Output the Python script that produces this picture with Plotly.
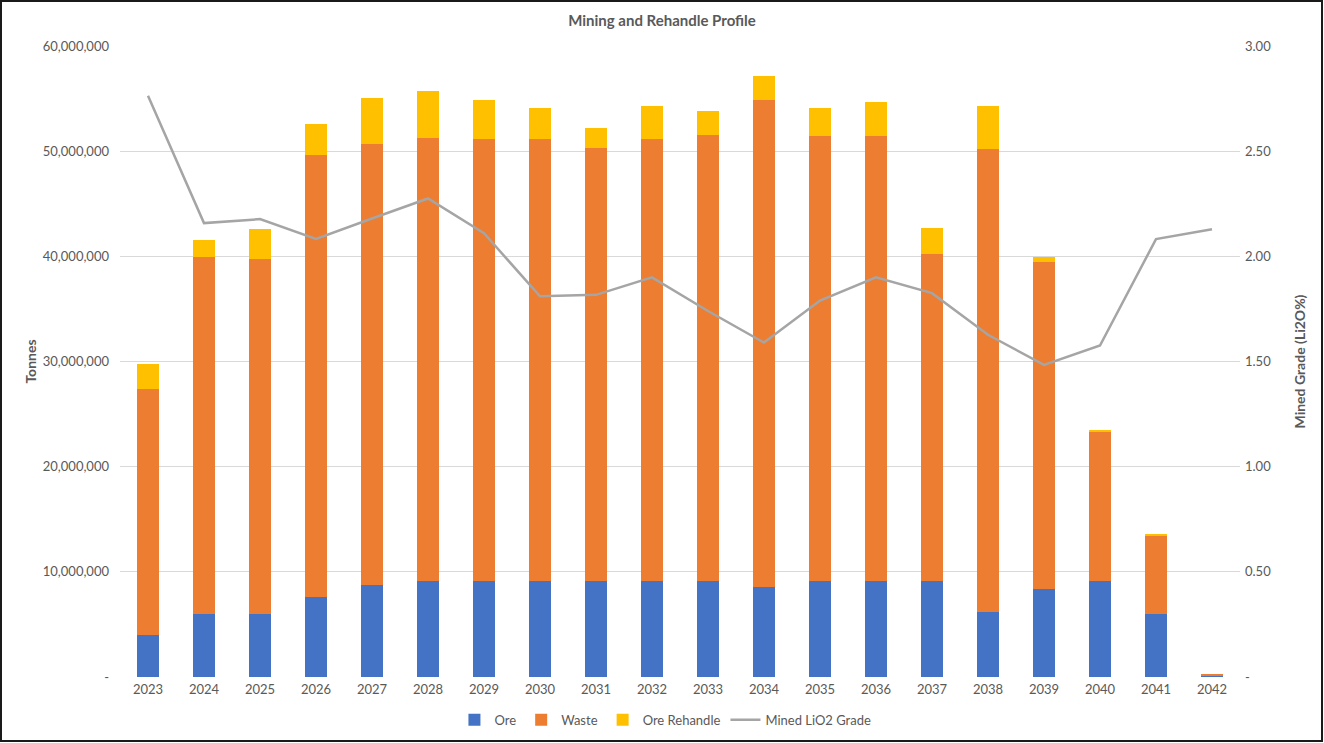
import plotly.graph_objects as go

years = [str(y) for y in range(2023, 2043)]
ore = [4.0e6, 6.0e6, 6.0e6, 7.63e6, 8.78e6, 9.13e6, 9.13e6, 9.13e6, 9.13e6, 9.13e6,
       9.13e6, 8.53e6, 9.13e6, 9.13e6, 9.13e6, 6.15e6, 8.4e6, 9.13e6, 6.02e6, 0.1e6]
waste = [23.4e6, 33.96e6, 33.77e6, 42.03e6, 41.92e6, 42.15e6, 42.05e6, 42.07e6, 41.17e6, 42.07e6,
         42.43e6, 46.37e6, 42.33e6, 42.34e6, 31.06e6, 44.08e6, 31.1e6, 14.22e6, 7.41e6, 0.15e6]
rehandle = [2.37e6, 1.59e6, 2.8e6, 2.94e6, 4.4e6, 4.45e6, 3.66e6, 2.87e6, 1.9e6, 3.1e6,
            2.24e6, 2.22e6, 2.67e6, 3.23e6, 2.53e6, 4.07e6, 0.46e6, 0.1e6, 0.14e6, 0.0]
grade = [2.764, 2.158, 2.177, 2.083, 2.18, 2.275, 2.11, 1.81, 1.817, 1.90,
         1.74, 1.59, 1.79, 1.90, 1.825, 1.627, 1.484, 1.576, 2.082, 2.129]

left_ticks = [0, 10e6, 20e6, 30e6, 40e6, 50e6, 60e6]
left_labels = ["-", "10,000,000", "20,000,000", "30,000,000", "40,000,000", "50,000,000", "60,000,000"]
right_ticks = [0, 0.5, 1.0, 1.5, 2.0, 2.5, 3.0]
right_labels = ["-", "0.50", "1.00", "1.50", "2.00", "2.50", "3.00"]

FONT = "Lato"
GREY = "#595959"

fig = go.Figure()
fig.add_trace(go.Bar(x=years, y=ore, name="Ore", marker_color="#4472C4", marker_line_width=0))
fig.add_trace(go.Bar(x=years, y=waste, name="Waste", marker_color="#ED7D31", marker_line_width=0))
fig.add_trace(go.Bar(x=years, y=rehandle, name="Ore Rehandle", marker_color="#FFC000", marker_line_width=0))
fig.add_trace(go.Scatter(x=years, y=grade, name="Mined LiO2 Grade", mode="lines",
                         line=dict(color="#A5A5A5", width=2.5), yaxis="y2"))

fig.update_layout(
    width=1324, height=743,
    barmode="stack", bargap=0.62,
    paper_bgcolor="white", plot_bgcolor="white",
    margin=dict(l=120, r=84, t=46, b=66, autoexpand=False),
    font=dict(family=FONT, size=13, color=GREY),
    title=dict(text="<b>Mining and Rehandle Profile</b>", x=0.5, xanchor="center",
               y=0.972, yanchor="middle", font=dict(family=FONT, size=15, color=GREY)),
    xaxis=dict(type="category", showgrid=False, showline=False, ticks="",
               ticklabelstandoff=3,
               tickfont=dict(family=FONT, size=13, color=GREY)),
    yaxis=dict(range=[0, 60e6], tickvals=left_ticks, ticktext=left_labels,
               showgrid=True, gridcolor="#D9D9D9", gridwidth=1, zeroline=False,
               ticks="", ticklabelstandoff=10,
               title=dict(text="<b>Tonnes</b>", font=dict(family=FONT, size=14, color=GREY), standoff=2),
               tickfont=dict(family=FONT, size=13, color=GREY)),
    yaxis2=dict(range=[0, 3.0], tickvals=right_ticks, ticktext=right_labels,
                overlaying="y", side="right", showgrid=False, zeroline=False,
                ticks="", ticklabelstandoff=4,
                title=dict(text="<b>Mined Grade (Li2O%)</b>", font=dict(family=FONT, size=14, color=GREY), standoff=25),
                tickfont=dict(family=FONT, size=13, color=GREY)),
    legend=dict(orientation="h", x=0.487, xanchor="center", y=-0.068, yanchor="middle",
                font=dict(family=FONT, size=13, color=GREY), bgcolor="rgba(0,0,0,0)",
                traceorder="normal", itemwidth=30),
    showlegend=True,
)

# outer frame around the whole chart
fig.add_shape(type="rect", xref="paper", yref="paper",
              x0=(1 - 120) / 1120, x1=(1322 - 120) / 1120,
              y0=(677 - 741) / 631, y1=(677 - 1) / 631,
              line=dict(color="#1a1a1a", width=2), fillcolor="rgba(0,0,0,0)", layer="above")

fig.write_html("out.html", config={"displayModeBar": False})

# remove default browser body margin so the figure sits at the window origin
with open("out.html", "r", encoding="utf-8") as f:
    html = f.read()
html = html.replace("<body>", '<body style="margin:0;padding:0;overflow:hidden">', 1)
with open("out.html", "w", encoding="utf-8") as f:
    f.write(html)
